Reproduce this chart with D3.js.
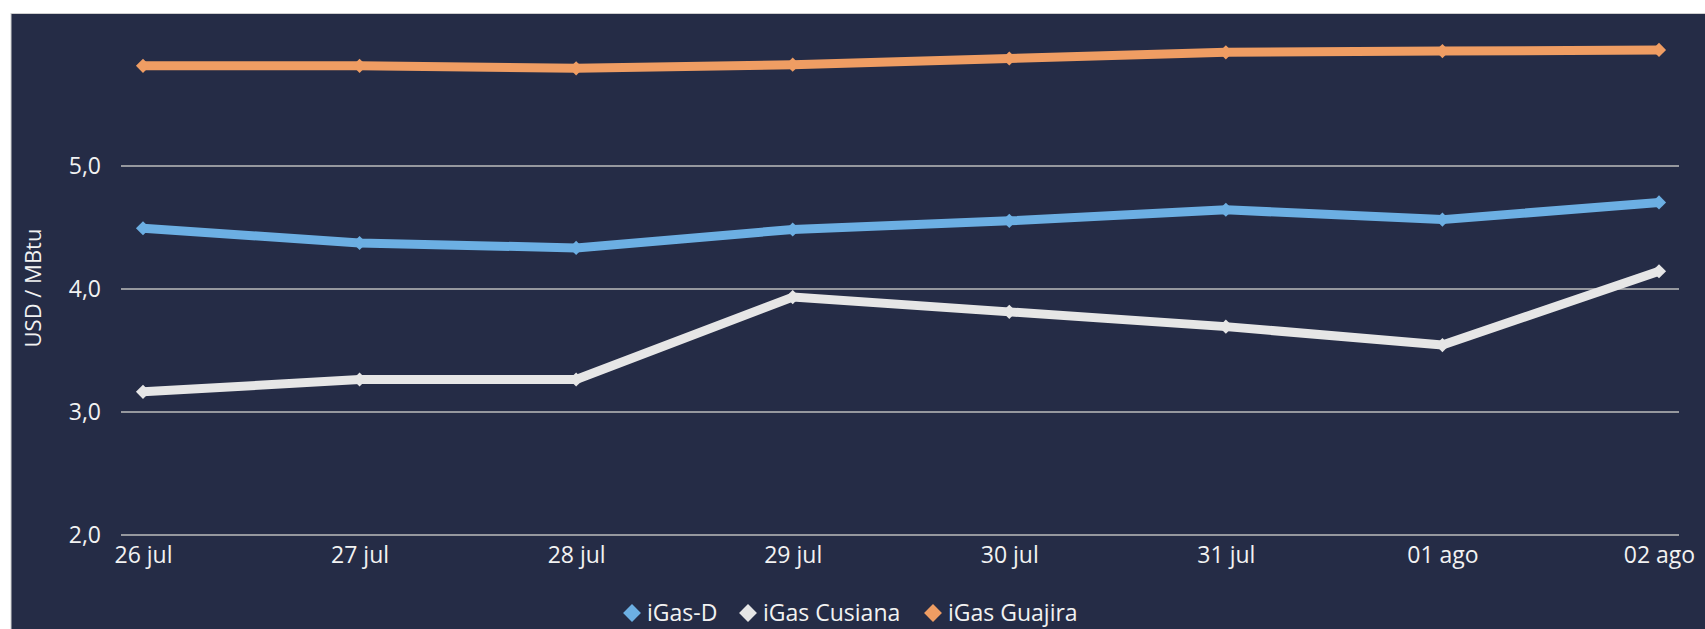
<!DOCTYPE html>
<html>
<head>
<meta charset="utf-8">
<script src="https://cdn.jsdelivr.net/npm/d3@7"></script>
<style>
  body { margin: 0; background: #ffffff; }
  svg { display: block; font-family: "Open Sans", "Noto Sans", sans-serif; }
</style>
</head>
<body>
<div id="chart"></div>
<script>
// data
let days = ["26 jul", "27 jul", "28 jul", "29 jul", "30 jul", "31 jul", "01 ago", "02 ago"];
let igasD = [4.49, 4.37, 4.33, 4.48, 4.55, 4.64, 4.56, 4.70];
let igasCusiana = [3.16, 3.26, 3.26, 3.93, 3.81, 3.69, 3.54, 4.14];
let igasGuajira = [5.81, 5.81, 5.79, 5.82, 5.87, 5.92, 5.93, 5.94];
let yTicks = [2, 3, 4, 5];
let seriesNames = ["iGas-D", "iGas Cusiana", "iGas Guajira"];
let seriesColors = ["#6cafe3", "#e6e6e6", "#ef9d63"];

let w = 1705;
let h = 629;
let font = "'Open Sans', 'Noto Sans', sans-serif";

let viz = d3.select("#chart")
  .append("svg")
  .attr("width", w)
  .attr("height", h);

// dark panel
viz.append("rect")
  .attr("x", 11)
  .attr("y", 13.5)
  .attr("width", w)
  .attr("height", h)
  .attr("fill", "#252c46")
  .attr("stroke", "#cfcfcf")
  .attr("stroke-width", 1);

let xScale = d3.scalePoint()
  .domain(days)
  .range([143, 1659]);

let yScale = d3.scaleLinear()
  .domain([2, 5])
  .range([534.5, 165.5]);

let comma = d3.formatLocale({ decimal: ",", thousands: ".", grouping: [3], currency: ["$", ""] });

// y axis with gridlines
let yAxis = d3.axisLeft(yScale)
  .tickValues(yTicks)
  .tickSize(-(1679 - 121))
  .tickPadding(20)
  .tickFormat(comma.format(".1f"));
let yAxisGroup = viz.append("g")
  .attr("transform", "translate(121,0)")
  .call(yAxis)
  .attr("font-family", font);
yAxisGroup.select(".domain").remove();
yAxisGroup.selectAll("line")
  .attr("stroke", "#bdbdbd")
  .attr("stroke-width", 1.6);
yAxisGroup.selectAll("text")
  .attr("fill", "#f2f2f2")
  .attr("font-size", 23)
  .attr("dy", "0.36em");

// x axis labels
let xAxis = d3.axisBottom(xScale).tickSize(0).tickPadding(12);
let xAxisGroup = viz.append("g")
  .attr("transform", "translate(0,534.5)")
  .call(xAxis)
  .attr("font-family", font);
xAxisGroup.select(".domain").remove();
xAxisGroup.selectAll("text")
  .attr("fill", "#f2f2f2")
  .attr("font-size", 23);

// axis title
viz.append("text")
  .attr("transform", "translate(41,288) rotate(-90)")
  .attr("text-anchor", "middle")
  .attr("fill", "#f2f2f2")
  .attr("font-size", 22)
  .text("USD / MBtu");

let allSeries = [igasD, igasCusiana, igasGuajira];

let line = d3.line()
  .x(function (d, i) { return xScale(days[i]); })
  .y(function (d) { return yScale(d); });

let diamond = d3.symbol().type(d3.symbolSquare).size(100);

allSeries.forEach(function (vals, s) {
  let g = viz.append("g").classed("series", true);
  g.append("path")
    .datum(vals)
    .attr("d", line)
    .attr("fill", "none")
    .attr("stroke", seriesColors[s])
    .attr("stroke-width", 9)
    .attr("stroke-linejoin", "round");
  g.selectAll(".marker")
    .data(vals)
    .enter()
    .append("path")
    .classed("marker", true)
    .attr("d", diamond)
    .attr("transform", function (d, i) {
      return "translate(" + xScale(days[i]) + "," + yScale(d) + ") rotate(45)";
    })
    .attr("fill", seriesColors[s]);
});

// legend
let legendX = [632, 748, 933];
let legend = viz.append("g").classed("legend", true);
seriesNames.forEach(function (name, s) {
  legend.append("path")
    .attr("d", d3.symbol().type(d3.symbolSquare).size(160))
    .attr("transform", "translate(" + legendX[s] + ",613) rotate(45)")
    .attr("fill", seriesColors[s]);
  legend.append("text")
    .attr("x", legendX[s] + 15)
    .attr("y", 621)
    .attr("fill", "#f2f2f2")
    .attr("font-size", 23)
    .text(name);
});
</script>
</body>
</html>
